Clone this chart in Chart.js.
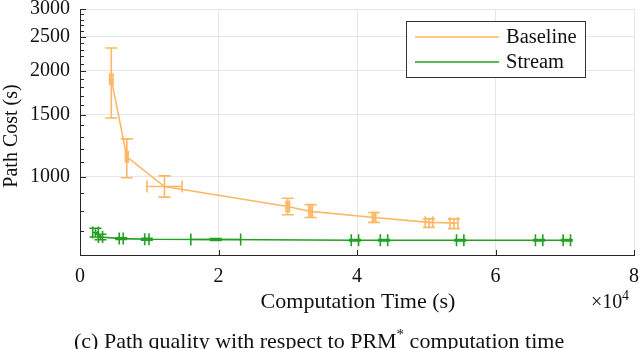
<!DOCTYPE html>
<html>
<head>
<meta charset="utf-8">
<script src="https://cdn.jsdelivr.net/npm/chart.js@4/dist/chart.umd.min.js"></script>
<style>
  html, body { margin: 0; padding: 0; background: #fff; }
  #wrap { width: 640px; height: 349px; position: relative; }
</style>
</head>
<body>
<div id="wrap"><canvas id="c" width="640" height="349"></canvas></div>
<script>
// ---- data ----
const baselineX    = [4520, 6760, 12200, 30000, 33300, 42460, 50400, 54000];
const baselineY    = [1895, 1141, 939, 824, 798, 767, 743, 740];
const baselineYLo  = [1470, 995, 876, 781, 767, 743, 719, 713];
const baselineYHi  = [2325, 1283, 1007, 870, 834, 792, 760, 760];
const baselineXErr = [250, 200, 2530, 250, 250, 250, 550, 580];

const streamX    = [2240, 2960, 5950, 9650, 19600, 39700, 43900, 54900, 66300, 70300];
const streamY    = [695, 675, 668, 665, 664, 661, 661, 661, 661, 661];
const streamYErr = [20, 12, 4, 4, 4, 3, 3, 3, 3, 3];
const streamXErr = [400, 300, 290, 310, 3600, 530, 530, 530, 530, 530];

const xTicks = [0, 20000, 40000, 60000, 80000];
const yMajor = [1000, 1500, 2000, 2500, 3000];
const yMinor = [600, 700, 800, 900, 1000, 1100, 1200, 1300, 1400, 1500, 1600, 1700, 1800, 1900,
                2000, 2100, 2200, 2300, 2400, 2500, 2600, 2700, 2800, 2900, 3000];

const seriesNames = ['Baseline', 'Stream'];
const xTitle = 'Computation Time (s)';
const yTitle = 'Path Cost (s)';
const caption = ['(c) Path quality with respect to PRM', '*', ' computation time'];

const ORANGE = '#FFB766';
const GREEN = '#22A022';
const AXIS = '#262626';
const GRID = '#e6e6e6';
const FONT = '"Liberation Serif", "DejaVu Serif", serif';

const errorBars = [
  { x: baselineX, y: baselineY, lo: baselineYLo, hi: baselineYHi, xe: baselineXErr, color: ORANGE },
  { x: streamX, y: streamY, lo: streamY.map((v, i) => v - streamYErr[i]), hi: streamY.map((v, i) => v + streamYErr[i]), xe: streamXErr, color: GREEN }
];

const decoPlugin = {
  id: 'deco',
  afterDatasetsDraw(chart) {
    const c = chart.ctx, xs = chart.scales.x, ys = chart.scales.y;
    c.save();
    c.lineWidth = 1.6;
    const cap = 6;
    errorBars.forEach(s => {
      c.strokeStyle = s.color;
      s.x.forEach((xv, i) => {
        const px = xs.getPixelForValue(xv);
        const py = ys.getPixelForValue(s.y[i]);
        const pLo = ys.getPixelForValue(s.lo[i]);
        const pHi = ys.getPixelForValue(s.hi[i]);
        const pxL = xs.getPixelForValue(xv - s.xe[i]);
        const pxR = xs.getPixelForValue(xv + s.xe[i]);
        c.beginPath();
        c.moveTo(px, pLo); c.lineTo(px, pHi);
        c.moveTo(px - cap, pLo); c.lineTo(px + cap, pLo);
        c.moveTo(px - cap, pHi); c.lineTo(px + cap, pHi);
        c.moveTo(pxL, py); c.lineTo(pxR, py);
        c.moveTo(pxL, py - cap); c.lineTo(pxL, py + cap);
        c.moveTo(pxR, py - cap); c.lineTo(pxR, py + cap);
        c.stroke();
      });
    });
    c.restore();
  },
  afterDraw(chart) {
    const c = chart.ctx, xs = chart.scales.x, ys = chart.scales.y, a = chart.chartArea;
    c.save();
    c.strokeStyle = AXIS; c.lineWidth = 1;
    c.beginPath();
    yMinor.forEach(v => {
      const py = Math.round(ys.getPixelForValue(v)) + 0.5;
      const len = yMajor.includes(v) ? 6 : 4;
      c.moveTo(a.left, py); c.lineTo(a.left + len, py);
    });
    xTicks.forEach(v => {
      const px = Math.round(xs.getPixelForValue(v)) + 0.5;
      c.moveTo(px, a.bottom); c.lineTo(px, a.bottom - 5);
    });
    c.stroke();

    c.fillStyle = '#111';
    c.font = '22px ' + FONT;
    c.textAlign = 'center'; c.textBaseline = 'alphabetic';
    c.fillText(xTitle, 358, 308);
    c.textAlign = 'left';
    c.font = '20px ' + FONT;
    c.fillText('\u00d710', 591, 308);
    c.font = '14px ' + FONT;
    c.fillText('4', 622, 300);
    c.save();
    c.translate(17, 136);
    c.rotate(-Math.PI / 2);
    c.font = '20px ' + FONT;
    c.textAlign = 'center';
    c.fillText(yTitle, 0, 0);
    c.restore();
    c.font = '22px ' + FONT;
    c.textAlign = 'left';
    let cx = 74;
    c.fillText(caption[0], cx, 348);
    cx += c.measureText(caption[0]).width;
    c.font = '15px ' + FONT;
    c.fillText(caption[1], cx, 339);
    cx += c.measureText(caption[1]).width;
    c.font = '22px ' + FONT;
    c.fillText(caption[2], cx, 348);

    const lx = 406.5, ly = 21.5, lw = 179, lh = 56;
    c.fillStyle = '#fff';
    c.fillRect(lx, ly, lw, lh);
    c.strokeStyle = '#333'; c.lineWidth = 1;
    c.strokeRect(lx, ly, lw, lh);
    const rows = [{ name: seriesNames[0], color: ORANGE, y: 37 }, { name: seriesNames[1], color: GREEN, y: 62 }];
    rows.forEach(r => {
      c.strokeStyle = r.color; c.lineWidth = 1.5;
      c.beginPath(); c.moveTo(415, r.y); c.lineTo(499, r.y); c.stroke();
      c.fillStyle = '#111';
      c.font = '20.5px ' + FONT;
      c.textAlign = 'left'; c.textBaseline = 'alphabetic';
      c.fillText(r.name, 506, r.y + 6);
    });
    c.restore();
  }
};

new Chart(document.getElementById('c'), {
  type: 'scatter',
  data: {
    datasets: [
      { label: seriesNames[0], data: baselineX.map((x, i) => ({ x, y: baselineY[i] })), showLine: true,
        borderColor: ORANGE, backgroundColor: ORANGE, borderWidth: 1.6, pointRadius: 0, tension: 0 },
      { label: seriesNames[1], data: streamX.map((x, i) => ({ x, y: streamY[i] })), showLine: true,
        borderColor: GREEN, backgroundColor: GREEN, borderWidth: 1.6, pointRadius: 0, tension: 0 }
    ]
  },
  options: {
    responsive: false, animation: false, devicePixelRatio: 1,
    layout: { padding: { left: 0, right: 6, top: 9, bottom: 0 } },
    plugins: { legend: { display: false }, tooltip: { enabled: false } },
    scales: {
      x: {
        type: 'linear', min: 0, max: 80000,
        afterBuildTicks(s) { s.ticks = xTicks.map(v => ({ value: v })); },
        afterFit(s) { s.height = 94; s.paddingLeft = 0; s.paddingRight = 0; },
        ticks: { callback: v => String(v / 10000), font: { family: FONT, size: 20 }, color: '#111', padding: 10, maxRotation: 0, autoSkip: false },
        grid: { color: ctx => (ctx.tick && ctx.tick.value > 0) ? GRID : 'rgba(0,0,0,0)', drawTicks: false, lineWidth: 1 },
        border: { display: true, color: AXIS, width: 1 }
      },
      y: {
        type: 'logarithmic', min: 600, max: 3000,
        afterBuildTicks(s) { s.ticks = yMinor.map(v => ({ value: v })); },
        afterFit(s) { s.width = 80; s.paddingTop = 0; s.paddingBottom = 0; },
        ticks: { callback: v => yMajor.includes(v) ? String(v) : '', font: { family: FONT, size: 20 }, color: '#111', padding: 10, autoSkip: false },
        grid: { color: ctx => (ctx.tick && yMajor.includes(ctx.tick.value)) ? GRID : 'rgba(0,0,0,0)', drawTicks: false, lineWidth: 1 },
        border: { display: true, color: AXIS, width: 1 }
      }
    }
  },
  plugins: [decoPlugin]
});
</script>
</body>
</html>
